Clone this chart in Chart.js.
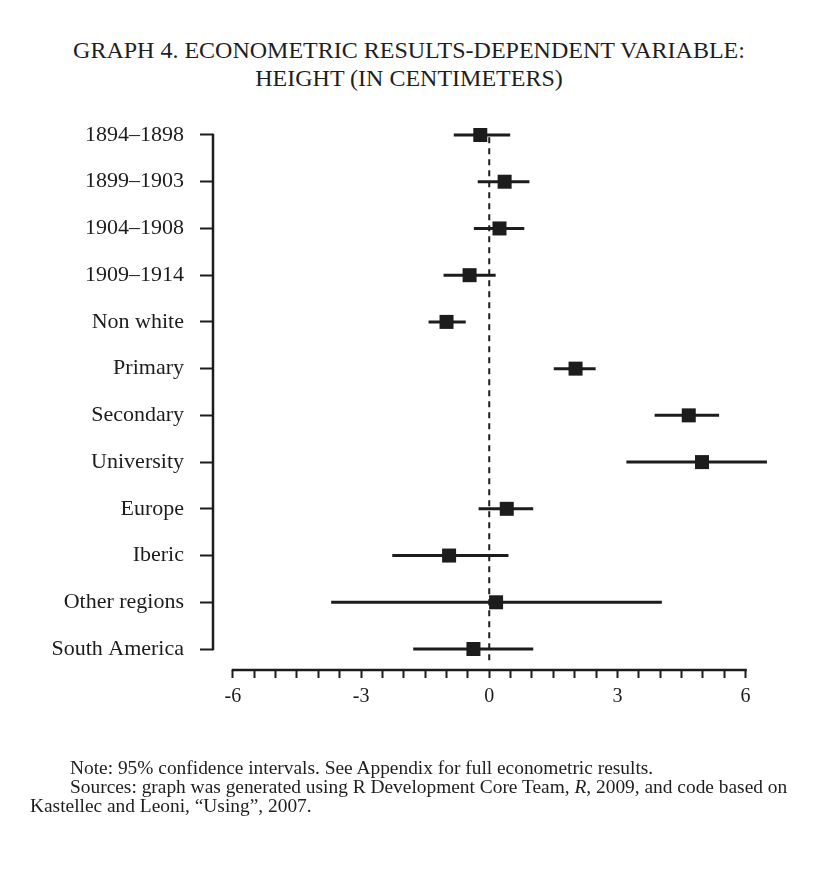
<!DOCTYPE html>
<html>
<head>
<meta charset="utf-8">
<script src="https://cdn.jsdelivr.net/npm/chart.js@4.4.0/dist/chart.umd.min.js"></script>
<style>
  html, body { margin: 0; padding: 0; background: #fff; }
  body { width: 831px; height: 880px; position: relative; overflow: hidden; font-family: "Liberation Serif", "DejaVu Serif", serif; color: #1e1e1e; }
  #wrap { position: absolute; left: 0; top: 0; width: 831px; height: 880px; }
  .title { position: absolute; left: 0; width: 818px; text-align: center; font-size: 24px; line-height: 28px; }
  .note { position: absolute; font-size: 19.4px; line-height: 19px; white-space: nowrap; }
</style>
</head>
<body>
<div class="title" style="top:36px">GRAPH 4. ECONOMETRIC RESULTS-DEPENDENT VARIABLE:<br>HEIGHT (IN CENTIMETERS)</div>
<div id="wrap"><canvas id="forestChart"></canvas></div>
<div class="note" style="left:70px; top:758px">Note: 95% confidence intervals. See Appendix for full econometric results.</div>
<div class="note" style="left:70px; top:777px">Sources: graph was generated using R Development Core Team, <i>R</i>, 2009, and code based on</div>
<div class="note" style="left:30px; top:796px">Kastellec and Leoni, “Using”, 2007.</div>

<script>
const categories = [
    "1894–1898",
    "1899–1903",
    "1904–1908",
    "1909–1914",
    "Non white",
    "Primary",
    "Secondary",
    "University",
    "Europe",
    "Iberic",
    "Other regions",
    "South America",
];
const estimates = [-0.21, 0.36, 0.24, -0.46, -1.0, 2.02, 4.67, 4.98, 0.41, -0.94, 0.16, -0.37];
const lower = [-0.83, -0.27, -0.36, -1.07, -1.42, 1.51, 3.87, 3.21, -0.25, -2.27, -3.7, -1.78];
const upper = [0.49, 0.94, 0.82, 0.15, -0.55, 2.49, 5.38, 6.5, 1.03, 0.45, 4.04, 1.03];
const xTicks = [-6, -5.5, -5, -4.5, -4, -3.5, -3, -2.5, -2, -1.5, -1, -0.5, 0, 0.5, 1, 1.5, 2, 2.5, 3, 3.5, 4, 4.5, 5, 5.5, 6];
const xLabels = [-6, -3, 0, 3, 6];
const referenceValue = 0;

const ink = "#1c1c1c";
const serif = "'Liberation Serif', 'DejaVu Serif', serif";

// confidence intervals, one small line dataset per row
const ciSets = categories.map((c, i) => ({
    type: "line",
    data: [{ x: lower[i], y: i }, { x: upper[i], y: i }],
    borderColor: ink,
    borderWidth: 3,
    pointRadius: 0,
    order: 1,
}));

// R-style axis lines that only run from first to last tick
const axisLines = {
    id: "axisLines",
    afterDraw(chart) {
        const { ctx, chartArea, scales } = chart;
        ctx.save();
        ctx.strokeStyle = ink;
        ctx.lineWidth = 2.5;
        ctx.beginPath();
        ctx.moveTo(chartArea.left, scales.y.getPixelForValue(0) - 1.2);
        ctx.lineTo(chartArea.left, scales.y.getPixelForValue(categories.length - 1) + 1.2);
        ctx.moveTo(scales.x.getPixelForValue(xTicks[0]) - 1.2, chartArea.bottom);
        ctx.lineTo(scales.x.getPixelForValue(xTicks[xTicks.length - 1]) + 1.2, chartArea.bottom);
        ctx.stroke();
        ctx.restore();
    },
};

new Chart(document.getElementById("forestChart"), {
    type: "scatter",
    data: {
        datasets: [
            {
                data: estimates.map((v, i) => ({ x: v, y: i })),
                pointStyle: "rect",
                pointRadius: 9.9,
                pointHoverRadius: 9.9,
                backgroundColor: ink,
                borderWidth: 0,
                order: 0,
            },
            ...ciSets,
            {
                type: "line",
                data: [{ x: referenceValue, y: 0.05 }, { x: referenceValue, y: 11.35 }],
                borderColor: ink,
                borderWidth: 2,
                borderDash: [6, 5],
                pointRadius: 0,
                order: 2,
            },
        ],
    },
    options: {
        responsive: true,
        maintainAspectRatio: false,
        animation: false,
        events: [],
        layout: { padding: { left: 0, top: 114, right: 62, bottom: 160 } },
        plugins: { legend: { display: false }, tooltip: { enabled: false } },
        scales: {
            x: {
                type: "linear",
                min: -6.466,
                max: 6.548,
                afterBuildTicks: (s) => { s.ticks = xTicks.map((v) => ({ value: v })); },
                afterFit: (s) => { s.height = 50; },
                border: { display: false },
                grid: { drawOnChartArea: false, drawTicks: true, tickLength: 8, tickWidth: 2, tickColor: ink },
                ticks: {
                    autoSkip: false,
                    maxRotation: 0,
                    padding: 7,
                    color: ink,
                    font: { family: serif, size: 20 },
                    callback: (v) => (xLabels.includes(v) ? String(v) : ""),
                },
            },
            y: {
                type: "linear",
                reverse: true,
                min: -0.449,
                max: 11.449,
                afterBuildTicks: (s) => { s.ticks = categories.map((c, i) => ({ value: i })); },
                afterFit: (s) => { s.width = 213; },
                border: { display: false },
                grid: { drawOnChartArea: false, drawTicks: true, tickLength: 13, tickWidth: 2, tickColor: ink },
                ticks: {
                    autoSkip: false,
                    padding: 16,
                    color: ink,
                    font: { family: serif, size: 22 },
                    callback: (v) => categories[v],
                },
            },
        },
    },
    plugins: [axisLines],
});
</script>
</body>
</html>
